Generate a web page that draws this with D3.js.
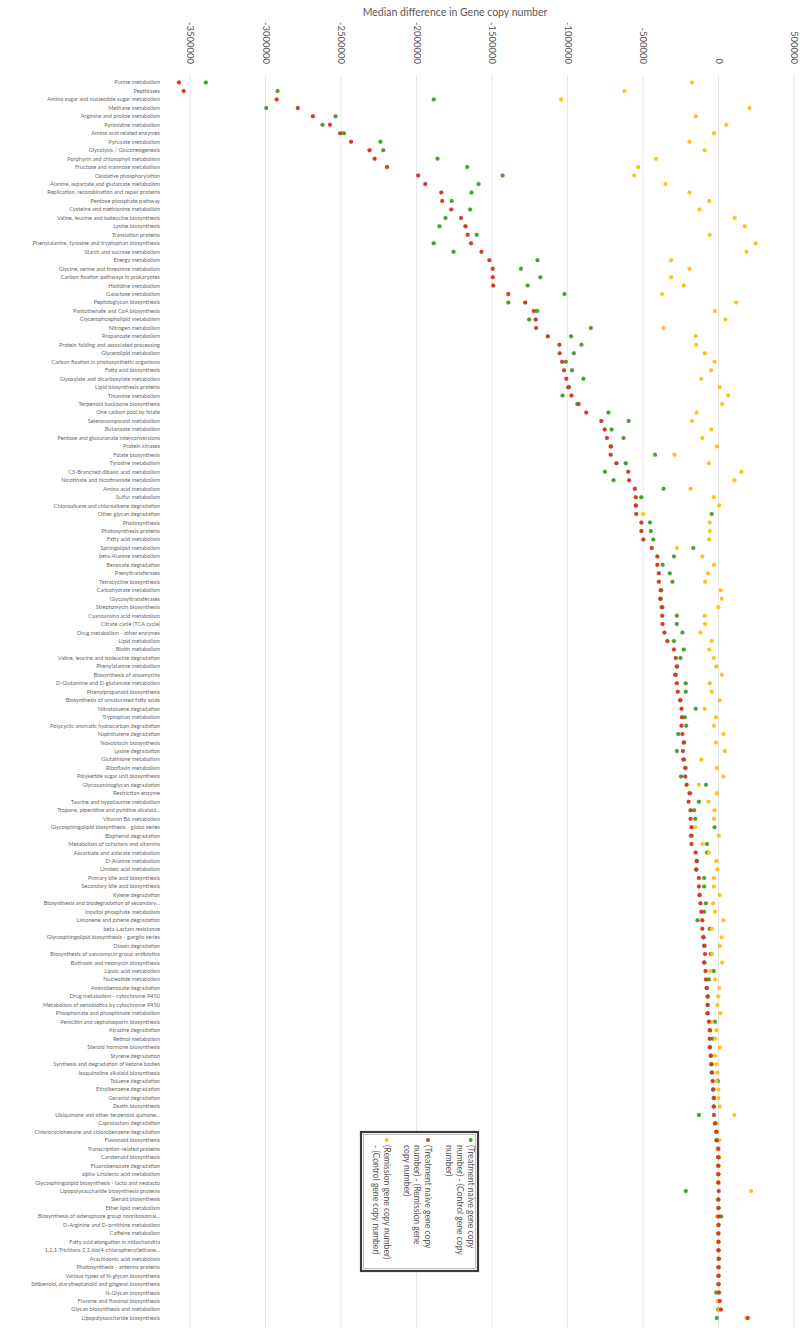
<!DOCTYPE html>
<html><head><meta charset="utf-8">
<script src="https://cdn.jsdelivr.net/npm/d3@7"></script>
<style>
html,body{margin:0;padding:0;background:#fff;}
svg{display:block;font-family:Lato,"Open Sans",sans-serif;}
</style></head>
<body><svg id="chart" width="800" height="1335"></svg>
<script>
const categories = [
"Purine metabolism","Peptidases","Amino sugar and nucleotide sugar metabolism","Methane metabolism","Arginine and proline metabolism","Pyrimidine metabolism","Amino acid related enzymes","Pyruvate metabolism","Glycolysis / Gluconeogenesis","Porphyrin and chlorophyll metabolism",
"Fructose and mannose metabolism","Oxidative phosphorylation","Alanine, aspartate and glutamate metabolism","Replication, recombination and repair proteins","Pentose phosphate pathway","Cysteine and methionine metabolism","Valine, leucine and isoleucine biosynthesis","Lysine biosynthesis","Translation proteins","Phenylalanine, tyrosine and tryptophan biosynthesis",
"Starch and sucrose metabolism","Energy metabolism","Glycine, serine and threonine metabolism","Carbon fixation pathways in prokaryotes","Histidine metabolism","Galactose metabolism","Peptidoglycan biosynthesis","Pantothenate and CoA biosynthesis","Glycerophospholipid metabolism","Nitrogen metabolism",
"Propanoate metabolism","Protein folding and associated processing","Glycerolipid metabolism","Carbon fixation in photosynthetic organisms","Fatty acid biosynthesis","Glyoxylate and dicarboxylate metabolism","Lipid biosynthesis proteins","Thiamine metabolism","Terpenoid backbone biosynthesis","One carbon pool by folate",
"Selenocompound metabolism","Butanoate metabolism","Pentose and glucuronate interconversions","Protein kinases","Folate biosynthesis","Tyrosine metabolism","C5-Branched dibasic acid metabolism","Nicotinate and nicotinamide metabolism","Amino acid metabolism","Sulfur metabolism",
"Chloroalkane and chloroalkene degradation","Other glycan degradation","Photosynthesis","Photosynthesis proteins","Fatty acid metabolism","Sphingolipid metabolism","beta-Alanine metabolism","Benzoate degradation","Prenyltransferases","Tetracycline biosynthesis",
"Carbohydrate metabolism","Glycosyltransferases","Streptomycin biosynthesis","Cyanoamino acid metabolism","Citrate cycle (TCA cycle)","Drug metabolism - other enzymes","Lipid metabolism","Biotin metabolism","Valine, leucine and isoleucine degradation","Phenylalanine metabolism",
"Biosynthesis of ansamycins","D-Glutamine and D-glutamate metabolism","Phenylpropanoid biosynthesis","Biosynthesis of unsaturated fatty acids","Nitrotoluene degradation","Tryptophan metabolism","Polycyclic aromatic hydrocarbon degradation","Naphthalene degradation","Novobiocin biosynthesis","Lysine degradation",
"Glutathione metabolism","Riboflavin metabolism","Polyketide sugar unit biosynthesis","Glycosaminoglycan degradation","Restriction enzyme","Taurine and hypotaurine metabolism","Tropane, piperidine and pyridine alkaloid...","Vitamin B6 metabolism","Glycosphingolipid biosynthesis - globo series","Bisphenol degradation",
"Metabolism of cofactors and vitamins","Ascorbate and aldarate metabolism","D-Alanine metabolism","Linoleic acid metabolism","Primary bile acid biosynthesis","Secondary bile acid biosynthesis","Xylene degradation","Biosynthesis and biodegradation of secondary...","Inositol phosphate metabolism","Limonene and pinene degradation",
"beta-Lactam resistance","Glycosphingolipid biosynthesis - ganglio series","Dioxin degradation","Biosynthesis of vancomycin group antibiotics","Butirosin and neomycin biosynthesis","Lipoic acid metabolism","Nucleotide metabolism","Aminobenzoate degradation","Drug metabolism - cytochrome P450","Metabolism of xenobiotics by cytochrome P450",
"Phosphonate and phosphinate metabolism","Penicillin and cephalosporin biosynthesis","Atrazine degradation","Retinol metabolism","Steroid hormone biosynthesis","Styrene degradation","Synthesis and degradation of ketone bodies","Isoquinoline alkaloid biosynthesis","Toluene degradation","Ethylbenzene degradation",
"Geraniol degradation","Zeatin biosynthesis","Ubiquinone and other terpenoid-quinone...","Caprolactam degradation","Chlorocyclohexane and chlorobenzene degradation","Flavonoid biosynthesis","Transcription-related proteins","Carotenoid biosynthesis","Fluorobenzoate degradation","alpha-Linolenic acid metabolism",
"Glycosphingolipid biosynthesis - lacto and neolacto","Lipopolysaccharide biosynthesis proteins","Steroid biosynthesis","Ether lipid metabolism","Biosynthesis of siderophore group nonribosomal...","D-Arginine and D-ornithine metabolism","Caffeine metabolism","Fatty acid elongation in mitochondria","1,1,1-Trichloro-2,2-bis(4-chlorophenyl)ethane...","Arachidonic acid metabolism",
"Photosynthesis - antenna proteins","Various types of N-glycan biosynthesis","Stilbenoid, diarylheptanoid and gingerol biosynthesis","N-Glycan biosynthesis","Flavone and flavonol biosynthesis","Glycan biosynthesis and metabolism","Lipopolysaccharide biosynthesis"
];

// (Treatment naive) - (Control), thousands of gene copies
const naiveMinusControl = [
-3395,-2920,-1886,-2995,-2536,-2623,-2480,-2239,-2220,-1861,
-1664,-1430,-1589,-1636,-1767,-1645,-1808,-1848,-1601,-1886,
-1755,-1199,-1308,-1180,-1264,-1020,-1392,-1201,-1254,-845,
-976,-908,-958,-1011,-970,-895,-990,-1033,-935,-729,
-595,-708,-629,-712,-420,-614,-752,-695,-364,-511,
-546,-45,-454,-448,-432,-167,-295,-370,-323,-305,
-380,-383,-372,-276,-276,-239,-295,-230,-252,-274,
-283,-217,-217,-252,-151,-223,-214,-267,-228,-276,
-228,-218,-248,-83,-188,-130,-161,-154,-26,-178,
-76,-76,-143,-146,-95,-95,-124,-83,-95,-139,
-58,-99,-93,-52,-93,-32,-64,-77,-71,-71,
-71,-23,-56,-39,-56,-50,-46,-43,-4,-34,
-30,-30,-130,-20,-14,-14,-5,-3,-3,-2,
-2,-217,-4,-1,18,0,-3,0,0,2,
0,0,0,-15,0,-2,-11
];
// (Treatment naive) - (Remission), thousands
const naiveMinusRemission = [
-3573,-3542,-2926,-2786,-2686,-2573,-2505,-2433,-2311,-2277,
-2195,-1989,-1942,-1836,-1830,-1770,-1705,-1676,-1661,-1639,
-1570,-1517,-1495,-1495,-1492,-1392,-1280,-1223,-1211,-1208,
-1130,-1054,-1052,-1036,-1023,-1008,-995,-974,-926,-876,
-776,-754,-739,-714,-714,-676,-598,-592,-554,-548,
-548,-545,-511,-511,-498,-442,-405,-405,-395,-395,
-383,-386,-376,-373,-370,-358,-339,-295,-283,-276,
-286,-276,-270,-254,-245,-242,-245,-239,-230,-236,
-233,-220,-220,-211,-192,-198,-185,-185,-179,-183,
-179,-151,-145,-148,-130,-130,-126,-120,-114,-107,
-107,-101,-95,-89,-95,-86,-83,-79,-73,-73,
-73,-64,-58,-58,-58,-52,-48,-45,-39,-36,
-32,-32,-30,-23,-14,-11,-1,-1,-1,-1,
-1,2,0,0,0,0,0,0,0,2,
0,0,0,2,9,16,194
];
// (Remission) - (Control), thousands
const remissionMinusControl = [
-176,-623,-1042,205,-151,52,-30,-192,-92,-414,
-532,-558,-352,-192,-61,-126,108,174,-58,246,
186,-314,-192,-314,-230,-374,117,-23,46,-364,
-151,-148,-92,-26,-48,-114,8,64,24,-145,
-176,-48,-107,-11,-292,-64,152,105,-185,-32,
5,-498,-58,-58,-61,-276,-107,-30,-70,-89,
14,21,-1,-92,-89,-120,-45,-61,-32,-14,
21,-58,-45,8,-92,-17,-30,33,-17,42,
-114,-11,33,-130,-11,-67,-26,-30,-154,2,
-104,-64,-14,-7,-30,-30,8,-36,-23,33,
-45,21,8,-42,24,-55,-23,5,-1,-7,
11,-45,-14,-20,8,-23,-14,-7,-14,-1,
-1,8,105,-14,-10,5,-7,5,0,0,
0,217,-4,0,-11,0,-3,0,0,0,
0,0,0,5,-7,5,185
];

const tickValues = [-3500000,-3000000,-2500000,-2000000,-1500000,-1000000,-500000,0,500000];
const tickLabels = ["-3500000","-3000000","-2500000","-2000000","-1500000","-1000000","-500000","0","500000"];
const seriesNames = [
  ["(Treatment naive gene copy","number) - (Control gene copy","number)"],
  ["(Treatment naive gene copy","number) - (Remission gene","copy number)"],
  ["(Remission gene copy number)","- (Control gene copy number)"]
];
const seriesColors = ["#4a9e38","#d23b2a","#ffc21a"];
const titleText = "Median difference in Gene copy number";

const svg = d3.select("#chart");
const x = d3.scaleLinear().domain([-3500000, 500000]).range([190, 794]);
const y = d3.scalePoint().domain(categories).range([82.5, 1318]);
const gridTop = 75, gridBottom = 1328;

// gridlines
svg.append("g").selectAll("line").data(tickValues).join("line")
  .attr("x1", d => x(d)).attr("x2", d => x(d))
  .attr("y1", gridTop).attr("y2", gridBottom)
  .attr("stroke", "#e8e8e8").attr("stroke-width", 1);

// top axis with rotated labels
const axis = svg.append("g").attr("transform", "translate(0,64)")
  .call(d3.axisTop(x).tickValues(tickValues).tickSize(0).tickFormat((d, i) => tickLabels[i]));
axis.select(".domain").remove();
axis.selectAll("text")
  .attr("x", 0).attr("y", 0).attr("dy", "0.35em")
  .attr("transform", "rotate(90)")
  .style("text-anchor", "end")
  .attr("fill", "#595959")
  .style("font-size", "9.5px")
  .style("font-family", "Lato, 'Open Sans', sans-serif");

// title
svg.append("text").attr("x", 455).attr("y", 16).attr("text-anchor", "middle")
  .attr("fill", "#595959").style("font-size", "10.5px").text(titleText);

// category labels
svg.append("g").selectAll("text").data(categories).join("text")
  .attr("x", 160).attr("y", d => y(d)).attr("dy", "0.35em")
  .attr("text-anchor", "end").attr("fill", "#6a6a6a")
  .style("font-size", "5.6px").text(d => d);

// points
const series = [naiveMinusControl, remissionMinusControl, naiveMinusRemission];
const seriesColorOrder = [seriesColors[0], seriesColors[2], seriesColors[1]];
series.forEach((vals, si) => {
  svg.append("g").selectAll("circle").data(vals).join("circle")
    .attr("cx", d => x(d * 1000))
    .attr("cy", (d, i) => y(categories[i]))
    .attr("r", 2)
    .attr("fill", seriesColorOrder[si])
    .attr("stroke", seriesColorOrder[si]).attr("stroke-opacity", 0.3).attr("stroke-width", 0.8);
});

// legend (rotated 90°)
const lg = svg.append("g");
lg.append("rect").attr("x", 361).attr("y", 1132).attr("width", 117).attr("height", 139)
  .attr("fill", "#fff").attr("stroke", "#3c3c3c").attr("stroke-width", 2.2);
lg.append("rect").attr("x", 363.5).attr("y", 1134.5).attr("width", 112).attr("height", 134)
  .attr("fill", "none").attr("stroke", "#9a9a9a").attr("stroke-width", 0.6);
const entryX = [470.7, 428, 386.7];
seriesNames.forEach((lines, si) => {
  lg.append("circle").attr("cx", entryX[si]).attr("cy", 1140).attr("r", 2)
    .attr("fill", seriesColors[si]);
  lines.forEach((ln, li) => {
    lg.append("text")
      .attr("transform", `translate(${entryX[si] - li * 10.7},1145) rotate(90)`)
      .attr("dy", "0.35em").attr("fill", "#595959")
      .style("font-size", "8.6px").text(ln);
  });
});
</script></body></html>
